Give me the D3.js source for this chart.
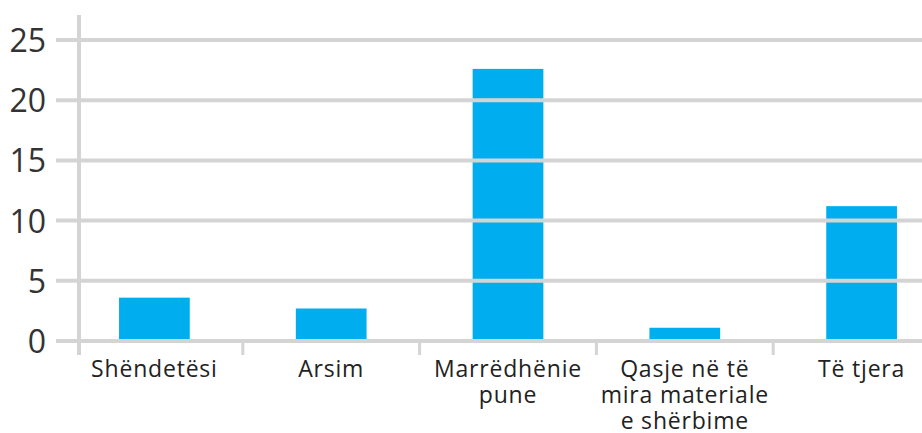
<!DOCTYPE html>
<html>
<head>
<meta charset="utf-8">
<script src="https://cdn.jsdelivr.net/npm/d3@7"></script>
<style>
  body { margin: 0; background: #fff; }
  text { font-family: "Open Sans", sans-serif; fill: #222; }
</style>
</head>
<body>
<script>
const categories = ["Shëndetësi", "Arsim", "Marrëdhënie pune", "Qasje në të mira materiale e shërbime", "Të tjera"];
const labelLines = [["Shëndetësi"], ["Arsim"], ["Marrëdhënie", "pune"], ["Qasje në të", "mira materiale", "e shërbime"], ["Të tjera"]];
const values = [3.6, 2.7, 22.6, 1.1, 11.2];
const yTicks = [0, 5, 10, 15, 20, 25];

const width = 922, height = 433;
const axisX = 79, gridLeft = 56;

const svg = d3.select("body").append("svg")
    .attr("width", width)
    .attr("height", height);

const x = d3.scaleBand().domain(categories).range([66, 950]).paddingInner(0.6).paddingOuter(0.3);
const y = d3.scaleLinear().domain([0, 25]).range([341, 40]);

// bars
svg.selectAll("rect.bar")
    .data(values)
    .enter().append("rect")
    .attr("class", "bar")
    .attr("x", (d, i) => x(categories[i]))
    .attr("width", x.bandwidth())
    .attr("y", d => y(d))
    .attr("height", d => y(0) - y(d))
    .attr("fill", "#00aeef");

// gridlines
svg.selectAll("line.grid")
    .data(yTicks)
    .enter().append("line")
    .attr("class", "grid")
    .attr("x1", gridLeft).attr("x2", width)
    .attr("y1", d => y(d)).attr("y2", d => y(d))
    .attr("stroke", "#d4d4d4")
    .attr("stroke-width", 4);

// y axis line
svg.append("line")
    .attr("x1", axisX).attr("x2", axisX)
    .attr("y1", 15).attr("y2", 355)
    .attr("stroke", "#d4d4d4")
    .attr("stroke-width", 4);

// category separators
const step = x.step();
svg.selectAll("line.sep")
    .data(categories.slice(1))
    .enter().append("line")
    .attr("class", "sep")
    .attr("x1", d => x(d) - step * x.paddingInner() / 2)
    .attr("x2", d => x(d) - step * x.paddingInner() / 2)
    .attr("y1", y(0)).attr("y2", 355)
    .attr("stroke", "#d4d4d4")
    .attr("stroke-width", 3);

// y tick labels
svg.selectAll("text.ytick")
    .data(yTicks)
    .enter().append("text")
    .attr("class", "ytick")
    .attr("x", 46)
    .attr("y", d => y(d) + 12)
    .attr("text-anchor", "end")
    .style("font-size", "32px")
    .style("fill", "#333")
    .text(d => d);

// x labels
const lbl = svg.selectAll("text.xlab")
    .data(categories)
    .enter().append("text")
    .attr("class", "xlab")
    .attr("text-anchor", "middle")
    .style("font-size", "23px")
    .style("letter-spacing", "0.8px")
    .attr("transform", d => "translate(" + (x(d) + x.bandwidth() / 2) + ",377)");

lbl.selectAll("tspan")
    .data((d, i) => labelLines[i])
    .enter().append("tspan")
    .attr("x", 0)
    .attr("y", (d, i) => i * 26)
    .text(d => d);
</script>
</body>
</html>
